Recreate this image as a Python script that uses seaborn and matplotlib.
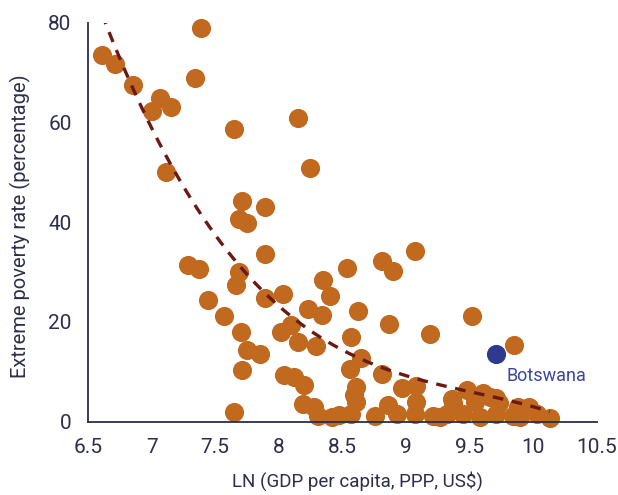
import matplotlib
matplotlib.use("Agg")
import matplotlib.pyplot as plt
import seaborn as sns
import pandas as pd
import numpy as np

# ---- data ----
gdp_ln = [6.61, 6.71, 6.85, 7.07, 7.15, 7.00, 7.34, 7.39, 7.11, 7.65, 8.15, 8.245,
          7.71, 7.89, 7.69, 7.75, 7.89, 7.29, 7.37, 7.69, 7.66, 8.35, 7.44, 7.89,
          8.03, 7.57, 7.70, 8.23, 8.34, 8.02, 8.10, 8.15, 8.29, 7.75, 7.85, 7.71,
          8.04, 8.12, 8.20, 8.19, 8.28, 8.31, 8.42, 8.47, 7.65,
          9.07, 8.81, 8.90, 8.54, 8.40, 8.62, 8.87, 9.19, 9.52, 8.57, 8.65, 8.56,
          8.81, 8.97, 9.08, 8.61, 8.59, 8.61, 9.08, 8.86, 8.57, 8.76, 8.93, 9.07,
          9.21, 9.32, 9.37, 9.36, 9.45, 9.48, 9.54, 9.58, 9.61, 9.66, 9.71, 9.71,
          9.73, 9.84, 9.88, 9.90, 9.97, 10.03, 10.13, 9.85, 9.27]
poverty = [73.5, 71.8, 67.5, 65.0, 63.2, 62.4, 69.0, 78.9, 50.0, 58.6, 61.0, 50.8,
           44.3, 43.1, 40.6, 39.8, 33.7, 31.4, 30.7, 30.1, 27.5, 28.4, 24.5, 24.9,
           25.6, 21.2, 17.9, 22.7, 21.4, 18.0, 19.4, 16.0, 15.2, 14.4, 13.6, 10.4,
           9.4, 9.0, 7.4, 3.6, 3.0, 1.2, 1.0, 1.3, 1.9,
           34.3, 32.2, 30.2, 30.9, 25.3, 22.2, 19.6, 17.5, 21.2, 17.0, 12.8, 10.6,
           9.5, 6.7, 7.2, 7.0, 5.4, 4.0, 4.0, 3.3, 1.5, 1.2, 1.6, 1.6,
           1.2, 1.5, 3.7, 4.6, 1.6, 6.4, 4.0, 1.0, 5.8, 5.0, 4.7, 1.6,
           3.7, 1.2, 3.0, 1.0, 3.0, 1.6, 0.8, 15.4, 1.0]
highlight_name = "Botswana"
highlight_x = [9.71]
highlight_y = [13.6]
x_ticks = [6.5, 7, 7.5, 8, 8.5, 9, 9.5, 10, 10.5]
x_tick_labels = ["6.5", "7", "7.5", "8", "8.5", "9", "9.5", "10", "10.5"]
y_ticks = [0, 20, 40, 60, 80]

df = pd.DataFrame({"x": gdp_ln, "y": poverty})
hl = pd.DataFrame({"x": highlight_x, "y": highlight_y})

sns.set_style("white")
plt.rcParams["font.family"] = ["Roboto", "DejaVu Sans"]

navy = "#2c2e4c"
orange = "#C0691F"

fig = plt.figure(figsize=(6.18, 4.95), dpi=100)
ax = fig.add_axes([0.1424, 0.148, 0.8231, 0.806])

sns.scatterplot(data=df, x="x", y="y", ax=ax, color=orange, s=190,
                linewidth=0, alpha=1, clip_on=False, zorder=2)
sns.regplot(data=df, x="x", y="y", ax=ax, order=3, ci=None, scatter=False,
            truncate=True,
            line_kws=dict(color="#6B1A12", lw=2.4, dashes=(3.2, 2.6), zorder=3))
sns.scatterplot(data=hl, x="x", y="y", ax=ax, color="#2E3A8F", s=190,
                linewidth=0, clip_on=False, zorder=4)
ax.text(9.79, 9.2, highlight_name, color="#3B44A0", fontsize=13,
        va="center", ha="left")

ax.set_xlim(6.5, 10.5)
ax.set_ylim(0, 80)
ax.set_xticks(x_ticks)
ax.set_xticklabels(x_tick_labels)
ax.set_yticks(y_ticks)
ax.tick_params(axis="both", colors=navy, labelsize=15, length=5.8, width=1.3,
               direction="out", pad=6)
ax.tick_params(axis="both", labelcolor=navy)
for side in ["top", "right"]:
    ax.spines[side].set_visible(False)
for side in ["left", "bottom"]:
    ax.spines[side].set_color(navy)
    ax.spines[side].set_linewidth(1.3)
ax.set_xlabel("LN (GDP per capita, PPP, US$)", fontsize=13.5, color=navy)
ax.xaxis.set_label_coords(0.53, -0.125)
ax.set_ylabel("Extreme poverty rate (percentage)", fontsize=14.5, color=navy)
ax.yaxis.set_label_coords(-0.112, 0.49)

fig.savefig("out.png", dpi=100)
